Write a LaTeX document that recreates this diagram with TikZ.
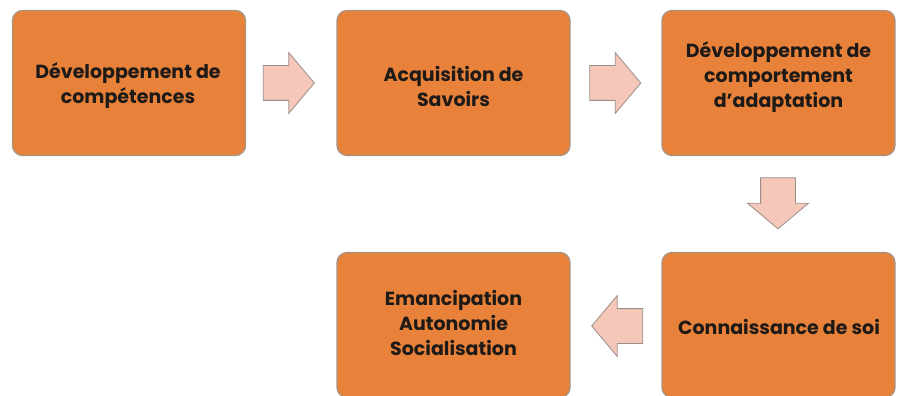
\documentclass[tikz,border=0pt]{standalone}
\usepackage{fontspec}
\setmainfont{Poppins}
\usetikzlibrary{shapes.arrows}
\definecolor{boxfill}{HTML}{E8823A}
\definecolor{boxline}{HTML}{A89484}
\definecolor{arrfill}{HTML}{F5C7B8}
\definecolor{arrline}{HTML}{9A8E88}
\definecolor{txt}{HTML}{1E1A18}
\tikzset{
  stepbox/.style={draw=boxline, line width=1.3pt, fill=boxfill, rounded corners=10pt,
    minimum width=233pt, minimum height=145pt, inner sep=0pt},
  steptext/.style={align=center, text=txt, inner sep=0pt,
    font=\fontsize{19}{25}\selectfont\bfseries},
  blockarrow/.style={shape=single arrow, draw=arrline, line width=0.8pt, fill=arrfill,
    minimum height=51pt, inner xsep=0pt, inner ysep=17pt, single arrow head extend=13pt,
    single arrow tip angle=100, single arrow head indent=0pt}
}
\begin{document}
\begin{tikzpicture}[x=1pt,y=-1pt]
\useasboundingbox (0,0) rectangle (898,396);
\node[stepbox] (b1) at (129,83) {};
\node[stepbox] (b2) at (453.5,83) {};
\node[stepbox] (b3) at (778.5,83) {};
\node[stepbox] (b4) at (778.5,325) {};
\node[stepbox] (b5) at (453.5,325) {};
\node[steptext] (t1) at (128,86) {Développement de\\compétences};
\node[steptext] (t2) at (453.5,86) {Acquisition de\\Savoirs};
\node[steptext] (t3) at (778.5,77) {Développement de\\comportement\\d’adaptation};
\node[steptext] (t4) at (779,327) {Connaissance de soi};
\node[steptext] (t5) at (453.5,323) {Emancipation\\Autonomie\\Socialisation};
\node[blockarrow] (a1) at (281.5,83) {};
\node[blockarrow] (a2) at (608,83) {};
\node[blockarrow, rotate=-90] (a3) at (778,196) {};
\node[blockarrow, rotate=180] (a4) at (624.5,326) {};
\end{tikzpicture}
\end{document}
